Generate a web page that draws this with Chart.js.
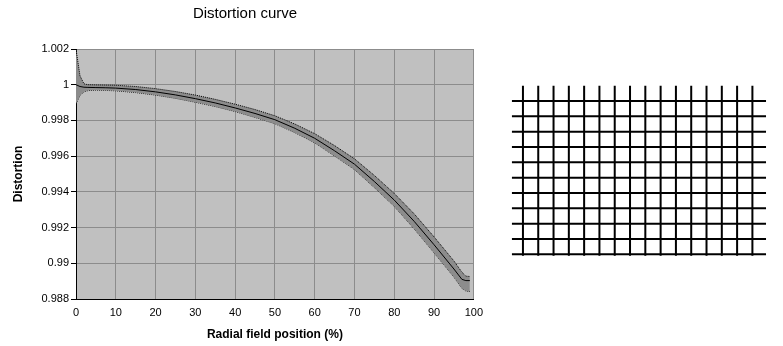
<!DOCTYPE html>
<html>
<head>
<meta charset="utf-8">
<script src="https://cdn.jsdelivr.net/npm/chart.js@4.4.1/dist/chart.umd.min.js"></script>
<style>
  html, body { margin: 0; padding: 0; background: #ffffff; }
  #wrap { position: relative; width: 783px; height: 346px; overflow: hidden; }
  #c1box { position: absolute; left: 0; top: 0; width: 490px; height: 346px; }
  #c2box { position: absolute; left: 500px; top: 0; width: 283px; height: 346px; }
</style>
</head>
<body>
<div id="wrap">
  <div id="c1box"><canvas id="c1" width="490" height="346"></canvas></div>
  <div id="c2box"><canvas id="c2" width="283" height="346"></canvas></div>
</div>
<script>
// ---- Data ----
const chartTitle = "Distortion curve";
const xTitle = "Radial field position (%)";
const yTitle = "Distortion";

const fieldPos = [0, 1, 2, 3, 5, 7.5, 10, 15, 20, 25, 30, 35, 40, 45, 50, 55, 60, 65, 70, 75, 80, 85, 90, 95, 97, 98, 99];
const distCenter = [1.00000, 0.99990, 0.99986, 0.99985, 0.99984, 0.99983, 0.99981, 0.99973, 0.99960, 0.99943, 0.99922, 0.99898, 0.99870, 0.99839, 0.99804, 0.99756, 0.99700, 0.99630, 0.99555, 0.99458, 0.99354, 0.99235, 0.99104, 0.98968, 0.98910, 0.98903, 0.98903];
const distUpper = [1.00200, 1.00050, 1.00005, 1.00000, 0.99999, 0.99998, 0.99997, 0.99990, 0.99978, 0.99962, 0.99942, 0.99918, 0.99891, 0.99861, 0.99826, 0.99780, 0.99726, 0.99659, 0.99585, 0.99492, 0.99391, 0.99277, 0.99148, 0.99013, 0.98950, 0.98928, 0.98926];
const distLower = [0.99893, 0.99941, 0.99960, 0.99967, 0.99970, 0.99968, 0.99966, 0.99956, 0.99942, 0.99924, 0.99902, 0.99878, 0.99850, 0.99817, 0.99782, 0.99732, 0.99675, 0.99601, 0.99525, 0.99424, 0.99319, 0.99193, 0.99059, 0.98923, 0.98860, 0.98845, 0.98842];

const xTicks = [0, 10, 20, 30, 40, 50, 60, 70, 80, 90, 100];
const yTicks = [0.988, 0.99, 0.992, 0.994, 0.996, 0.998, 1, 1.002];

// distortion grid picture (right): column and row indices, and line extents
const gridCols = [0, 1, 2, 3, 4, 5, 6, 7, 8, 9, 10, 11, 12, 13, 14, 15];
const gridRows = [0, 1, 2, 3, 4, 5, 6, 7, 8, 9, 10];
const rowSpan = [-0.72, 15.89];
const colSpan = [-1.0, 10.1];

// ---- Chart 1 ----
const FONT = "'Liberation Sans', Arial, sans-serif";
const toPts = (ys) => fieldPos.map((x, i) => ({ x: x, y: ys[i] }));

const plotBg = {
  id: 'plotBg',
  beforeDraw(chart) {
    const a = chart.chartArea, ctx = chart.ctx;
    ctx.save();
    ctx.fillStyle = '#c0c0c0';
    ctx.fillRect(a.left, a.top, a.right - a.left, a.bottom - a.top);
    ctx.restore();
  }
};

new Chart(document.getElementById('c1'), {
  type: 'line',
  data: {
    datasets: [
      { label: 'center', data: toPts(distCenter), borderColor: '#000000', borderWidth: 1, pointRadius: 0, fill: false, tension: 0 },
      { label: 'upper', data: toPts(distUpper), borderColor: '#000000', borderWidth: 1, borderDash: [1, 1], pointRadius: 0, fill: '+1', backgroundColor: '#8c8c8c', tension: 0 },
      { label: 'lower', data: toPts(distLower), borderColor: '#000000', borderWidth: 1, borderDash: [1, 1], pointRadius: 0, fill: false, tension: 0 }
    ]
  },
  options: {
    responsive: false,
    animation: false,
    events: [],
    layout: { padding: 0 },
    plugins: {
      legend: { display: false },
      tooltip: { enabled: false },
      title: {
        display: true,
        text: chartTitle,
        color: '#000000',
        font: { family: FONT, size: 15, weight: 'normal' },
        padding: { top: 5, bottom: 26 }
      }
    },
    scales: {
      x: {
        type: 'linear',
        min: 0, max: 100,
        afterBuildTicks(s) { s.ticks = xTicks.map(v => ({ value: v })); },
        afterFit(s) { s.height = 47; },
        grid: { color: '#8c8c8c', lineWidth: 1, drawTicks: false },
        border: { display: true, color: '#000000', width: 1 },
        ticks: { color: '#000000', font: { family: FONT, size: 11 }, padding: 7, maxRotation: 0 },
        title: { display: true, text: xTitle, color: '#000000', font: { family: FONT, size: 12, weight: 'bold' }, padding: { top: 4, bottom: 4 } }
      },
      y: {
        type: 'linear',
        min: 0.988, max: 1.002,
        afterBuildTicks(s) { s.ticks = yTicks.map(v => ({ value: v })); },
        afterFit(s) { s.width = 76; },
        grid: { color: '#8c8c8c', lineWidth: 1, drawTicks: true, tickLength: 5, tickColor: '#000000' },
        border: { display: true, color: '#000000', width: 1 },
        ticks: {
          color: '#000000', font: { family: FONT, size: 11 }, padding: 2,
          callback: (v) => String(Number(v.toFixed(3)))
        },
        title: { display: true, text: yTitle, color: '#000000', font: { family: FONT, size: 12, weight: 'bold' }, padding: { top: 11, bottom: 4 } }
      },
      yRight: {
        type: 'linear',
        position: 'right',
        min: 0, max: 1,
        afterFit(s) { s.width = 12; },
        grid: { display: false, drawTicks: false },
        border: { display: false },
        ticks: { display: false }
      }
    }
  },
  plugins: [plotBg]
});

// ---- Chart 2: distortion grid ----
const gridSets = [];
gridRows.forEach(r => gridSets.push({ data: [{ x: rowSpan[0], y: r }, { x: rowSpan[1], y: r }] }));
gridCols.forEach(c => gridSets.push({ data: [{ x: c, y: colSpan[0] }, { x: c, y: colSpan[1] }] }));
gridSets.forEach(d => Object.assign(d, { borderColor: '#000000', borderWidth: 2, pointRadius: 0, showLine: true, fill: false }));

new Chart(document.getElementById('c2'), {
  type: 'scatter',
  data: { datasets: gridSets },
  options: {
    responsive: false,
    animation: false,
    events: [],
    layout: { padding: 0 },
    plugins: { legend: { display: false }, tooltip: { enabled: false }, title: { display: false } },
    scales: {
      x: { type: 'linear', display: false, min: -1.5, max: 17.0 },
      y: { type: 'linear', display: false, reverse: true, min: -6.59, max: 15.98 }
    }
  }
});
</script>
</body>
</html>
